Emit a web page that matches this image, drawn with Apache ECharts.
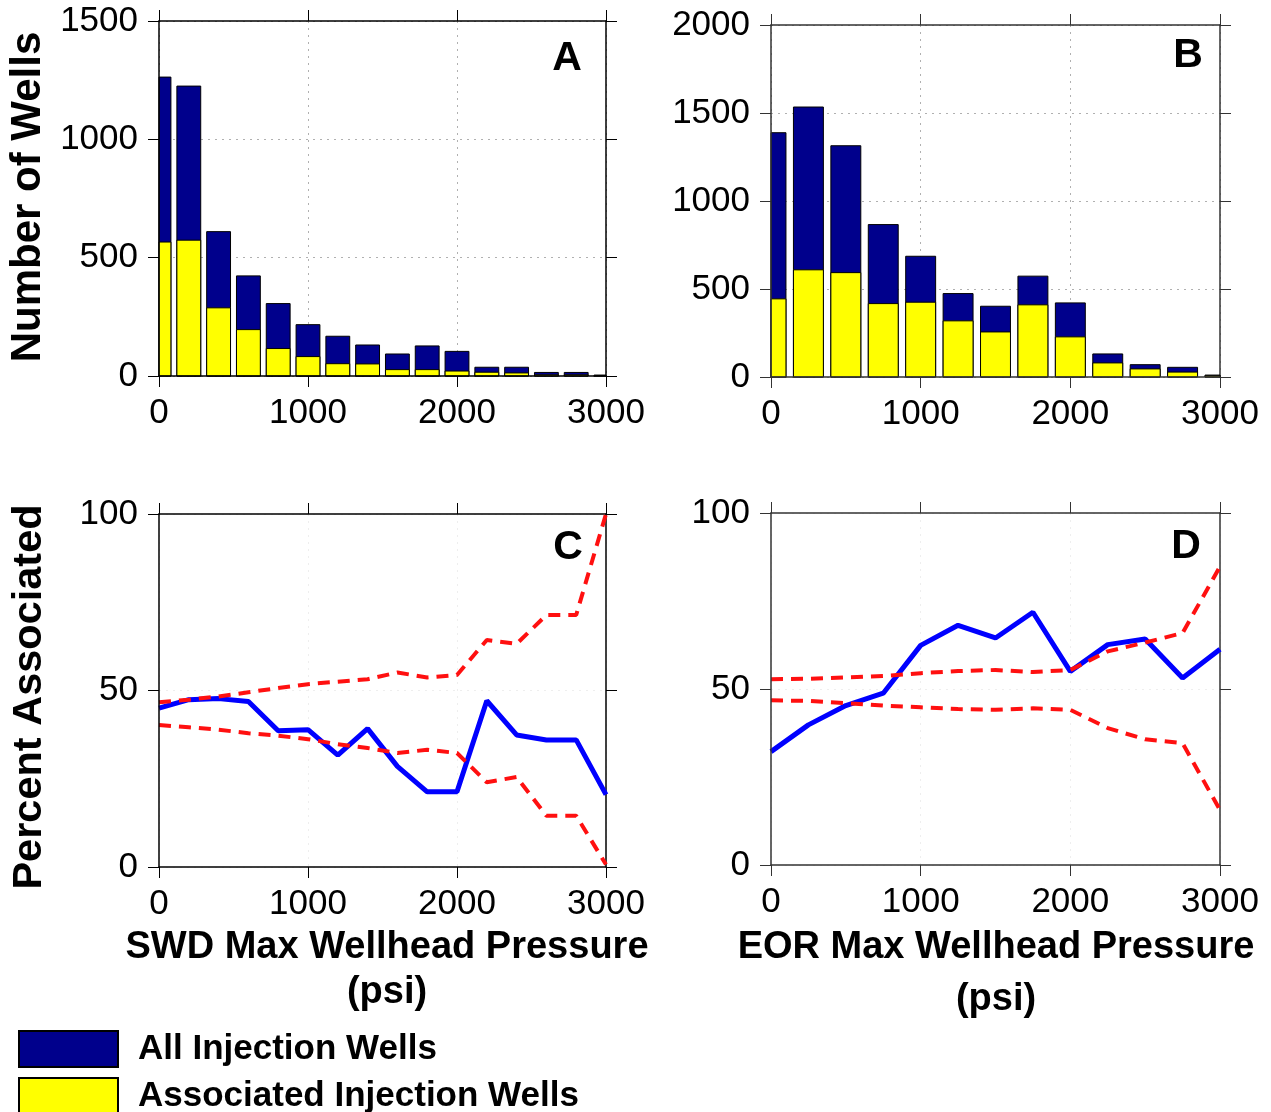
<!DOCTYPE html>
<html>
<head>
<meta charset="utf-8">
<script src="https://cdn.jsdelivr.net/npm/echarts@6/dist/echarts.min.js"></script>
<style>
  html, body { margin: 0; padding: 0; background: #ffffff; }
  #chart { width: 1271px; height: 1112px; }
</style>
</head>
<body>
<div id="chart"></div>
<script>
// ---------------- DATA ----------------
const swdBins   = [0, 200, 400, 600, 800, 1000, 1200, 1400, 1600, 1800, 2000, 2200, 2400, 2600, 2800, 3000];
const swdAll    = [1263, 1225, 610, 423, 306, 217, 168, 131, 93, 127, 104, 37, 37, 15, 15, 4];
const swdAssoc  = [566, 574, 288, 196, 116, 82, 52, 51, 27, 27, 21, 16, 13, 5, 5, 1];
const swdPct    = [45.0, 47.4, 47.7, 46.9, 38.6, 38.9, 31.7, 39.2, 28.5, 21.3, 21.3, 47.1, 37.4, 36.0, 36.0, 20.5];
const swdUpper  = [46.7, 47.4, 48.3, 49.5, 50.7, 51.8, 52.5, 53.2, 55.1, 53.7, 54.4, 64.3, 63.2, 71.4, 71.4, 100];
const swdLower  = [40.2, 39.6, 38.9, 37.9, 37.2, 36.2, 34.8, 33.7, 32.3, 33.2, 32.3, 24.0, 25.5, 14.5, 14.5, 0.7];

const eorBins   = [0, 250, 500, 750, 1000, 1250, 1500, 1750, 2000, 2250, 2500, 2750, 3000];
const eorAll    = [1388, 1534, 1314, 866, 686, 474, 402, 573, 421, 131, 70, 55, 11];
const eorAssoc  = [444, 609, 593, 417, 425, 319, 256, 410, 228, 80, 46, 28, 7];
const eorPct    = [32.2, 39.8, 45.3, 48.8, 62.4, 68.1, 64.5, 71.8, 55.0, 62.6, 64.2, 53.1, 61.3];
const eorUpper  = [52.8, 52.9, 53.3, 53.7, 54.5, 55.1, 55.4, 54.8, 55.4, 60.7, 63.2, 65.9, 84.8];
const eorLower  = [46.8, 46.6, 46.0, 45.3, 44.8, 44.3, 44.1, 44.5, 44.1, 38.9, 35.7, 34.6, 15.6];

const pressureTicks  = [0, 1000, 2000, 3000];
const swdCountTicks  = [0, 500, 1000, 1500];
const eorCountTicks  = [0, 500, 1000, 1500, 2000];
const pctTicks       = [0, 50, 100];

const legendNames = ['All Injection Wells', 'Associated Injection Wells'];
const panelLetters = ['A', 'B', 'C', 'D'];
const yTitles = ['Number of Wells', 'Percent Associated'];
const xTitles = ['SWD Max Wellhead Pressure', 'EOR Max Wellhead Pressure'];
const unitText = '(psi)';

// ---------------- STYLE / LAYOUT ----------------
const FF = '"Liberation Sans", Arial, Helvetica, sans-serif';
const NAVY = '#00008C';
const YELLOW = '#FFFF00';
const BAR_FRACTION = 0.8;

const grids = [
  { left: 159, top: 21,  width: 447, height: 355 },
  { left: 771, top: 25,  width: 449, height: 352 },
  { left: 159, top: 514, width: 447, height: 353 },
  { left: 771, top: 513, width: 449, height: 352 }
];
const axisColors = ['#000', '#333', '#000', '#333'];

function range(ticks) {
  return { min: ticks[0], max: ticks[ticks.length - 1], interval: ticks[1] - ticks[0] };
}
const plainNum = v => String(v);

const xAxes = [], yAxes = [];
function addAxes(gi, yTicks, splitColor) {
  const col = axisColors[gi];
  const xr = range(pressureTicks), yr = range(yTicks);
  const split = { show: true, lineStyle: { color: splitColor, type: [2, 5], width: 1 } };
  const line = { show: true, onZero: false, lineStyle: { color: col, width: 1.5 } };
  const tick = { show: true, inside: false, length: 11, lineStyle: { color: col, width: 1 } };
  xAxes.push({
    type: 'value', gridIndex: gi, position: 'bottom', min: xr.min, max: xr.max, interval: xr.interval, z: 10,
    axisLine: line, axisTick: tick,
    axisLabel: { show: true, margin: 20, color: '#000', fontSize: 35, fontFamily: FF, formatter: plainNum },
    splitLine: { show: false }
  });
  xAxes.push({
    type: 'value', gridIndex: gi, position: 'top', min: xr.min, max: xr.max, interval: xr.interval, z: 0,
    axisLine: line, axisTick: tick, axisLabel: { show: false }, splitLine: split
  });
  yAxes.push({
    type: 'value', gridIndex: gi, position: 'left', min: yr.min, max: yr.max, interval: yr.interval, z: 10,
    axisLine: line, axisTick: tick,
    axisLabel: { show: true, margin: 21, color: '#000', fontSize: 35, fontFamily: FF, formatter: plainNum },
    splitLine: { show: false }
  });
  yAxes.push({
    type: 'value', gridIndex: gi, position: 'right', min: yr.min, max: yr.max, interval: yr.interval, z: 0,
    axisLine: line, axisTick: tick, axisLabel: { show: false }, splitLine: split
  });
}
addAxes(0, swdCountTicks, '#b0b0b0');
addAxes(1, eorCountTicks, '#b0b0b0');
addAxes(2, pctTicks, '#eeeeee');
addAxes(3, pctTicks, '#eeeeee');

function pairs(xs, ys) { return xs.map((x, i) => [x, ys[i]]); }

function makeBarRenderer(binStep) {
  const half = binStep * BAR_FRACTION / 2;
  return function (params, api) {
    const x = api.value(0), y = api.value(1);
    const p0 = api.coord([x - half, y]);
    const p1 = api.coord([x + half, 0]);
    const cs = params.coordSys;
    const shape = echarts.graphic.clipRectByRect(
      { x: p0[0], y: p0[1], width: p1[0] - p0[0], height: p1[1] - p0[1] },
      { x: cs.x, y: cs.y, width: cs.width, height: cs.height }
    );
    if (!shape) return null;
    return { type: 'rect', shape: shape, style: api.style() };
  };
}

function barSeries(gi, name, bins, vals, color) {
  return {
    type: 'custom', name: name, xAxisIndex: gi * 2, yAxisIndex: gi * 2,
    data: pairs(bins, vals), encode: { x: 0, y: 1 },
    renderItem: makeBarRenderer(bins[1] - bins[0]),
    itemStyle: { color: color, borderColor: '#000', borderWidth: 1 },
    emphasis: { disabled: true }, animation: false, silent: true
  };
}
function lineSeries(gi, name, bins, vals, color, width, dashed) {
  return {
    type: 'line', name: name, xAxisIndex: gi * 2, yAxisIndex: gi * 2,
    data: pairs(bins, vals), showSymbol: false, symbol: 'none', clip: true,
    lineStyle: { color: color, width: width, type: dashed ? [12, 8] : 'solid' },
    emphasis: { disabled: true }, animation: false, z: dashed ? 4 : 3, silent: true
  };
}

const series = [
  barSeries(0, legendNames[0], swdBins, swdAll, NAVY),
  barSeries(0, legendNames[1], swdBins, swdAssoc, YELLOW),
  barSeries(1, legendNames[0], eorBins, eorAll, NAVY),
  barSeries(1, legendNames[1], eorBins, eorAssoc, YELLOW),
  lineSeries(2, 'SWD percent', swdBins, swdPct, '#0000FF', 5, false),
  lineSeries(2, 'SWD upper', swdBins, swdUpper, '#FF1010', 4, true),
  lineSeries(2, 'SWD lower', swdBins, swdLower, '#FF1010', 4, true),
  lineSeries(3, 'EOR percent', eorBins, eorPct, '#0000FF', 5, false),
  lineSeries(3, 'EOR upper', eorBins, eorUpper, '#FF1010', 4, true),
  lineSeries(3, 'EOR lower', eorBins, eorLower, '#FF1010', 4, true)
];

function txt(text, x, y, size, rot) {
  return {
    type: 'text', x: x, y: y, rotation: rot || 0, z: 100,
    style: { text: text, fill: '#000', fontSize: size, fontWeight: 'bold', fontFamily: FF,
             align: 'center', verticalAlign: 'middle' }
  };
}

const graphics = [
  txt(panelLetters[0], 567, 59, 41),
  txt(panelLetters[1], 1188, 56, 41),
  txt(panelLetters[2], 568, 548, 41),
  txt(panelLetters[3], 1186, 547, 41),
  txt(yTitles[0], 28, 197, 42, Math.PI / 2),
  txt(yTitles[1], 30, 697, 41.5, Math.PI / 2),
  txt(xTitles[0], 387, 948, 38),
  txt(unitText, 387, 993, 38),
  txt(xTitles[1], 996, 948, 38),
  txt(unitText, 996, 1000, 38)
];

function legendFor(name, top) {
  return {
    data: [name], orient: 'vertical', left: 18, top: top,
    itemWidth: 99, itemHeight: 36, itemGap: 0, padding: 0, icon: 'rect',
    selectedMode: false,
    textStyle: { fontSize: 35, fontWeight: 'bold', fontFamily: FF, color: '#000', padding: [0, 0, 0, 15] }
  };
}

const chart = echarts.init(document.getElementById('chart'), null, { renderer: 'canvas' });
chart.setOption({
  backgroundColor: '#ffffff',
  animation: false,
  grid: grids.map(g => Object.assign({ containLabel: false }, g)),
  xAxis: xAxes,
  yAxis: yAxes,
  legend: [legendFor(legendNames[0], 1030), legendFor(legendNames[1], 1077)],
  graphic: graphics,
  series: series
});
</script>
</body>
</html>
